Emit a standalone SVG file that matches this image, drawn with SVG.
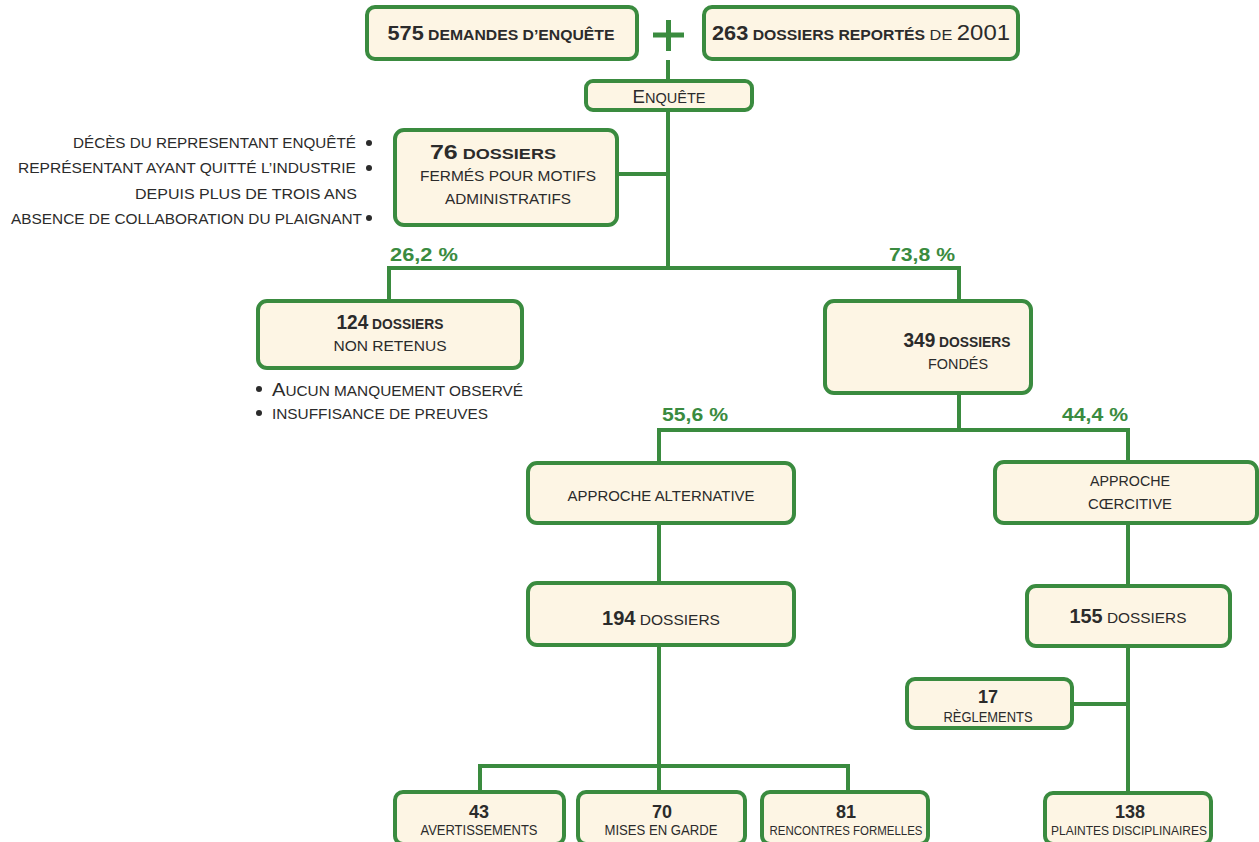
<svg xmlns="http://www.w3.org/2000/svg" width="1259" height="842" viewBox="0 0 1259 842">
<style>
.box{fill:#fdf5e4;stroke:#3a8b3f;stroke-width:4}
.ln{fill:none;stroke:#3a8b3f;stroke-width:4}
text{font-family:"Liberation Sans",Arial,sans-serif;fill:#2b2b2b}
.c{text-anchor:middle}
.r{text-anchor:end}
.num{font-weight:bold;font-size:20px}
.sb{font-weight:bold;font-size:14.5px}
.t{font-size:15.5px}
.s{font-size:14px}
.pct{font-weight:bold;font-size:19px;fill:#3a8b3f}
</style>
<rect width="1259" height="842" fill="#ffffff"/>
<g id="connectors">
<path class="ln" d="M668 60V81"/>
<path class="ln" d="M653 35H684M668.5 20V51" style="stroke-width:5"/>
<path class="ln" d="M668 110V268M668 174H617"/>
<path class="ln" d="M389 301V268H959V303"/>
<path class="ln" d="M959 393V430M659 463V430H1128V462"/>
<path class="ln" d="M659 523V583M1128 523V586"/>
<path class="ln" d="M1128 646V793M1072 704H1128"/>
<path class="ln" d="M659 645V792M480 792V766H848V792"/>
</g>
<g id="n-demandes">
<rect class="box" x="367" y="7" width="270" height="52" rx="8"/>
<text class="c" x="501" y="40" textLength="227" lengthAdjust="spacingAndGlyphs"><tspan class="num">575</tspan><tspan class="sb"> DEMANDES D’ENQUÊTE</tspan></text>
</g>
<g id="n-reportes">
<rect class="box" x="704" y="7" width="314" height="52" rx="8"/>
<text class="c" x="861" y="40" textLength="298" lengthAdjust="spacingAndGlyphs"><tspan class="num">263</tspan><tspan class="sb"> DOSSIERS REPORTÉS</tspan><tspan style="font-size:15px"> DE </tspan><tspan style="font-size:22px">2001</tspan></text>
</g>
<g id="n-enquete">
<rect class="box" x="586" y="81" width="166" height="29" rx="7"/>
<text class="c" x="669" y="103" textLength="73" lengthAdjust="spacingAndGlyphs"><tspan style="font-size:18px">E</tspan><tspan style="font-size:14px">NQUÊTE</tspan></text>
</g>
<g id="n-motifs-list">
<text class="r s" x="356" y="148" textLength="283" lengthAdjust="spacingAndGlyphs">DÉCÈS DU REPRESENTANT ENQUÊTÉ</text>
<circle cx="369" cy="143" r="3" fill="#2b2b2b"/>
<text class="r s" x="356" y="173" textLength="338" lengthAdjust="spacingAndGlyphs">REPRÉSENTANT AYANT QUITTÉ L’INDUSTRIE</text>
<circle cx="369" cy="168" r="3" fill="#2b2b2b"/>
<text class="r s" x="357" y="199" textLength="222" lengthAdjust="spacingAndGlyphs">DEPUIS PLUS DE TROIS ANS</text>
<text class="r s" x="362" y="224" textLength="351" lengthAdjust="spacingAndGlyphs">ABSENCE DE COLLABORATION DU PLAIGNANT</text>
<circle cx="369" cy="218" r="3" fill="#2b2b2b"/>
</g>
<g id="n-76">
<rect class="box" x="395" y="130" width="222" height="95" rx="9"/>
<text class="c" x="493" y="159" textLength="126" lengthAdjust="spacingAndGlyphs"><tspan class="num">76</tspan><tspan class="sb"> DOSSIERS</tspan></text>
<text class="c t" x="508" y="181" textLength="176" lengthAdjust="spacingAndGlyphs">FERMÉS POUR MOTIFS</text>
<text class="c t" x="508" y="204" textLength="126" lengthAdjust="spacingAndGlyphs">ADMINISTRATIFS</text>
</g>
<text class="pct" x="390" y="261" textLength="68" lengthAdjust="spacingAndGlyphs">26,2 %</text>
<text class="pct" x="889" y="261" textLength="66" lengthAdjust="spacingAndGlyphs">73,8 %</text>
<g id="n-124">
<rect class="box" x="258" y="301" width="264" height="67" rx="9"/>
<text class="c" x="390" y="329" textLength="107" lengthAdjust="spacingAndGlyphs"><tspan class="num">124</tspan><tspan class="sb"> DOSSIERS</tspan></text>
<text class="c t" x="390" y="351" textLength="113" lengthAdjust="spacingAndGlyphs">NON RETENUS</text>
</g>
<g id="n-124-list">
<circle cx="259" cy="389" r="3" fill="#2b2b2b"/>
<text x="272" y="396" textLength="251" lengthAdjust="spacingAndGlyphs"><tspan style="font-size:19px">A</tspan><tspan style="font-size:14.5px">UCUN MANQUEMENT OBSERVÉ</tspan></text>
<circle cx="259" cy="413" r="3" fill="#2b2b2b"/>
<text class="s" x="272" y="419" textLength="216" lengthAdjust="spacingAndGlyphs">INSUFFISANCE DE PREUVES</text>
</g>
<g id="n-349">
<rect class="box" x="825" y="301" width="206" height="92" rx="9"/>
<text class="c" x="957" y="347" textLength="107" lengthAdjust="spacingAndGlyphs"><tspan class="num">349</tspan><tspan class="sb"> DOSSIERS</tspan></text>
<text class="c t" x="958" y="369" textLength="60" lengthAdjust="spacingAndGlyphs">FONDÉS</text>
</g>
<text class="pct" x="662" y="421" textLength="66" lengthAdjust="spacingAndGlyphs">55,6 %</text>
<text class="pct" x="1062" y="421" textLength="66" lengthAdjust="spacingAndGlyphs">44,4 %</text>
<g id="n-alternative">
<rect class="box" x="528" y="463" width="266" height="60" rx="9"/>
<text class="c t" x="661" y="501" textLength="187" lengthAdjust="spacingAndGlyphs">APPROCHE ALTERNATIVE</text>
</g>
<g id="n-coercitive">
<rect class="box" x="995" y="462" width="262" height="61" rx="9"/>
<text class="c t" x="1130" y="486" textLength="80" lengthAdjust="spacingAndGlyphs">APPROCHE</text>
<text class="c t" x="1130" y="509" textLength="84" lengthAdjust="spacingAndGlyphs">CŒRCITIVE</text>
</g>
<g id="n-194">
<rect class="box" x="528" y="583" width="266" height="62" rx="9"/>
<text class="c" x="661" y="625" textLength="118" lengthAdjust="spacingAndGlyphs"><tspan class="num">194</tspan><tspan class="t"> DOSSIERS</tspan></text>
</g>
<g id="n-155">
<rect class="box" x="1027" y="586" width="203" height="60" rx="9"/>
<text class="c" x="1128" y="623" textLength="117" lengthAdjust="spacingAndGlyphs"><tspan class="num">155</tspan><tspan class="t"> DOSSIERS</tspan></text>
</g>
<g id="n-17">
<rect class="box" x="907" y="679" width="165" height="49" rx="8"/>
<text class="c num" x="988" y="703" style="font-size:18px">17</text>
<text class="c s" x="988" y="722" textLength="89" lengthAdjust="spacingAndGlyphs">RÈGLEMENTS</text>
</g>
<g id="n-43">
<rect class="box" x="395" y="792" width="169" height="52" rx="8"/>
<text class="c num" x="479" y="818" style="font-size:18px">43</text>
<text class="c s" x="479" y="835" textLength="117" lengthAdjust="spacingAndGlyphs">AVERTISSEMENTS</text>
</g>
<g id="n-70">
<rect class="box" x="578" y="792" width="167" height="52" rx="8"/>
<text class="c num" x="662" y="818" style="font-size:18px">70</text>
<text class="c s" x="661" y="835" textLength="113" lengthAdjust="spacingAndGlyphs">MISES EN GARDE</text>
</g>
<g id="n-81">
<rect class="box" x="762" y="792" width="166" height="52" rx="8"/>
<text class="c num" x="846" y="818" style="font-size:18px">81</text>
<text class="c s" x="846" y="835" textLength="153" lengthAdjust="spacingAndGlyphs" style="font-size:12.5px">RENCONTRES FORMELLES</text>
</g>
<g id="n-138">
<rect class="box" x="1045" y="793" width="166" height="51" rx="8"/>
<text class="c num" x="1130" y="818" style="font-size:18px">138</text>
<text class="c s" x="1129" y="835" textLength="156" lengthAdjust="spacingAndGlyphs" style="font-size:12.5px">PLAINTES DISCIPLINAIRES</text>
</g>
</svg>
